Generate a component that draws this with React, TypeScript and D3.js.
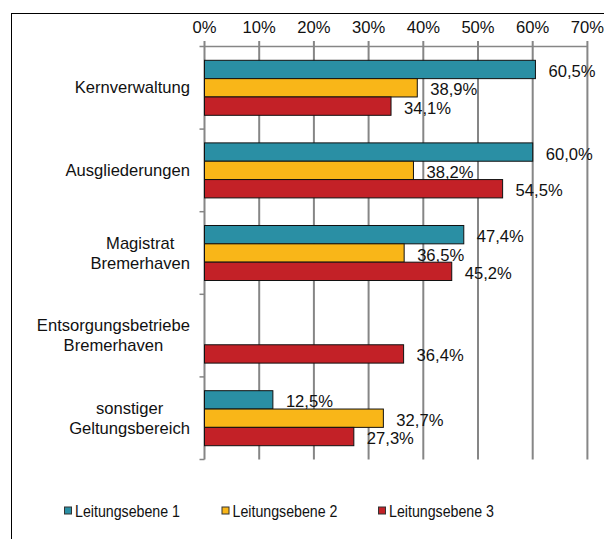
import React, { useEffect, useRef } from "react";
import * as d3 from "d3";

const categories = [
  ["Kernverwaltung"],
  ["Ausgliederungen"],
  ["Magistrat", "Bremerhaven"],
  ["Entsorgungsbetriebe", "Bremerhaven"],
  ["sonstiger", "Geltungsbereich"],
];
const seriesNames = ["Leitungsebene 1", "Leitungsebene 2", "Leitungsebene 3"];
const ebene1: (number | null)[] = [60.5, 60.0, 47.4, null, 12.5];
const ebene2: (number | null)[] = [38.9, 38.2, 36.5, null, 32.7];
const ebene3: (number | null)[] = [34.1, 54.5, 45.2, 36.4, 27.3];
const colors = ["#2A8FA4", "#F9B618", "#C32127"];
const ticks = [0, 10, 20, 30, 40, 50, 60, 70];

const FONT = "'Liberation Sans', Arial, sans-serif";
const FS = 16.6;

export default function App() {
  const ref = useRef<SVGSVGElement>(null);
  useEffect(() => {
    const svg = d3.select(ref.current);
    svg.selectAll("*").remove();
    const x0 = 204.5, y0 = 46.5, y1 = 459.5;
    const x = d3.scaleLinear().domain([0, 70]).range([x0, x0 + 7 * 54.7]);
    const y = d3.scaleBand<number>().domain(d3.range(categories.length)).range([y0, y1]);
    const bandH = y.bandwidth();
    const pad = bandH * 0.167;
    const inner = d3.scaleBand<number>().domain([0, 1, 2]).range([pad, bandH - pad]);

    svg.append("rect").attr("x", 11.5).attr("y", 13.5).attr("width", 700).attr("height", 700)
      .attr("fill", "white").attr("stroke", "black").attr("stroke-width", 1);

    const grid = "#868686";
    ticks.forEach((t) => {
      if (t === 0) return;
      svg.append("line").attr("x1", x(t)).attr("x2", x(t)).attr("y1", 41).attr("y2", y1)
        .attr("stroke", grid).attr("stroke-width", 2);
    });
    svg.append("line").attr("x1", x0).attr("x2", x(70)).attr("y1", y0).attr("y2", y0)
      .attr("stroke", grid).attr("stroke-width", 1.5);
    svg.append("line").attr("x1", x0).attr("x2", x0).attr("y1", 41).attr("y2", y1)
      .attr("stroke", grid).attr("stroke-width", 2);
    d3.range(categories.length + 1).forEach((i) => {
      const yy = y0 + i * bandH;
      svg.append("line").attr("x1", x0 - 5).attr("x2", x0).attr("y1", yy).attr("y2", yy)
        .attr("stroke", grid).attr("stroke-width", 1.5);
    });
    ticks.forEach((t) => {
      svg.append("text").attr("x", x(t)).attr("y", 27).attr("text-anchor", "middle")
        .attr("dominant-baseline", "central").attr("font-family", FONT).attr("font-size", FS)
        .attr("fill", "#111").text(`${t}%`);
    });

    const series = [ebene1, ebene2, ebene3];
    const fmt = (v: number) => v.toFixed(1).replace(".", ",") + "%";
    series.forEach((vals, s) => {
      vals.forEach((v, i) => {
        if (v == null) return;
        const by = (y(i) as number) + (inner(s) as number);
        const bh = inner.bandwidth();
        svg.append("rect").attr("x", x0).attr("y", by).attr("width", x(v) - x0).attr("height", bh)
          .attr("fill", colors[s]).attr("stroke", "#111").attr("stroke-width", 1);
        svg.append("text").attr("x", x(v) + 13).attr("y", by + bh / 2 + 2)
          .attr("dominant-baseline", "central").attr("font-family", FONT).attr("font-size", FS)
          .attr("fill", "#111").text(fmt(v));
      });
    });

    categories.forEach((lines, i) => {
      const cy = (y(i) as number) + bandH / 2;
      const g = svg.append("g");
      const texts = lines.map((l, k) =>
        g.append("text").attr("y", cy + (k - (lines.length - 1) / 2) * 20)
          .attr("dominant-baseline", "central").attr("text-anchor", "middle")
          .attr("font-family", FONT).attr("font-size", FS).attr("fill", "#111").text(l)
      );
      const widths = texts.map((t) => (t.node() as SVGTextElement).getComputedTextLength());
      const maxW = d3.max(widths) as number;
      const cx = 190 - maxW / 2;
      texts.forEach((t) => t.attr("x", cx));
    });

    const lx = [64.5, 222, 378.5];
    seriesNames.forEach((n, s) => {
      svg.append("rect").attr("x", lx[s]).attr("y", 507).attr("width", 7).attr("height", 7)
        .attr("fill", colors[s]).attr("stroke", "#333").attr("stroke-width", 1);
      svg.append("text").attr("x", lx[s] + 10.5).attr("y", 511).attr("dominant-baseline", "central")
        .attr("font-family", FONT).attr("font-size", 16).attr("fill", "#111")
        .attr("textLength", 105).attr("lengthAdjust", "spacingAndGlyphs").text(n);
    });
  }, []);
  return (
    <svg ref={ref} width={604} height={539}
      style={{ position: "absolute", left: 0, top: 0, display: "block" }} />
  );
}
